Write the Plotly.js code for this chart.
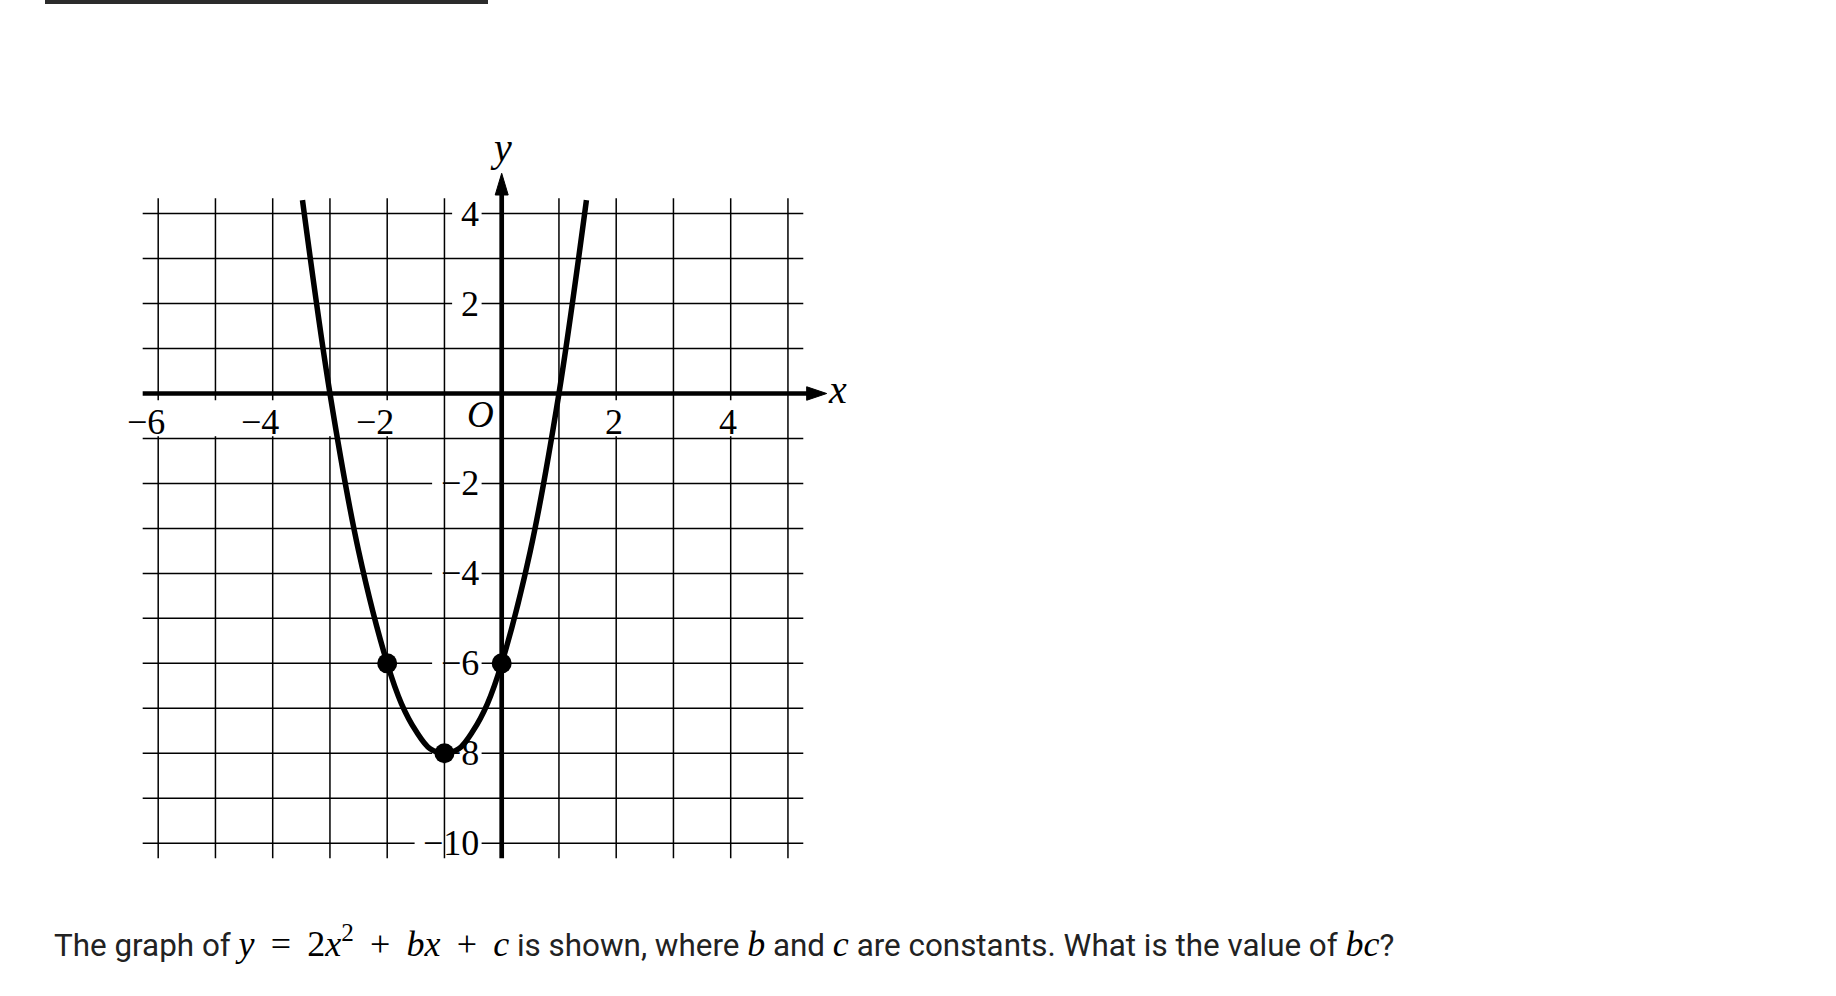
<!DOCTYPE html>
<html><head><meta charset="utf-8">
<script src="https://cdn.plot.ly/plotly-3.0.1.min.js"></script>
<style>html,body{margin:0;padding:0;background:#fff;overflow:hidden}#chart{width:1836px;height:996px}</style>
</head><body><div id="chart"></div>
<script>
// ---------- data ----------
const curveX = [-3.48, -3, -2.5, -2, -1.75, -1.5, -1.25, -1, -0.75, -0.5, -0.25, 0, 0.5, 1, 1.48];
const curveY = [4.3, 0, -3.5, -6, -6.9, -7.5, -7.9, -8, -7.9, -7.5, -6.9, -6, -3.5, 0, 4.3];
const pointX = [-2, -1, 0];
const pointY = [-6, -8, -6];
const gridX = [-6, -5, -4, -3, -2, -1, 1, 2, 3, 4, 5];
const gridY = [4, 3, 2, 1, -1, -2, -3, -4, -5, -6, -7, -8, -9, -10];
const xTickVals = [-6, -4, -2, 2, 4];
const xTickText = ['\u22126', '\u22124', '\u22122', '2', '4'];
const yTickVals = [4, 2, -2, -4, -6, -8, -10];
const yTickText = ['4', '2', '\u22122', '\u22124', '\u22126', '\u22128', '\u221210'];
const xGapVals = [-6, -5, -4, -3, -2, 2, 4];

// ---------- geometry / style ----------
const W = 1836, H = 996;
const PXX = 57.25, PXY = 44.97;      // pixels per unit
const X0 = 501.7, Y0 = 393.5;        // pixel position of origin
const xRange = [-X0 / PXX, (W - X0) / PXX];
const yRange = [-(H - Y0) / PXY, Y0 / PXY];
const GX0 = -6.271, GX1 = 5.268, GY0 = -10.336, GY1 = 4.341;
const INK = '#000';
const serif = 'Liberation Serif, Times New Roman, serif';
const GRID_W = 1.5;

const shapes = [];
// horizontal grid lines
gridY.forEach(y => shapes.push({type:'line', layer:'below', x0:GX0, x1:GX1, y0:y, y1:y, line:{color:INK, width:GRID_W}}));
// gaps in horizontal lines behind y labels
const charPx = ch => ch === '\u2212' ? 20 : 17.5;
const yMaskRight = -0.351;
yTickText.forEach((t, i) => {
  const wpx = [...t].reduce((s, c) => s + charPx(c), 0) + 12;
  shapes.push({type:'rect', layer:'below', x0:yMaskRight - wpx / PXX, x1:yMaskRight, y0:yTickVals[i] - 0.05, y1:yTickVals[i] + 0.05, fillcolor:'#fff', line:{width:0}});
});
// vertical grid lines
gridX.forEach(x => shapes.push({type:'line', layer:'below', x0:x, x1:x, y0:GY0, y1:GY1, line:{color:INK, width:GRID_W}}));
// gaps in vertical lines in the x-label row
xGapVals.forEach(x => shapes.push({type:'rect', layer:'below', x0:x - 0.05, x1:x + 0.05, y0:-0.95, y1:-0.15, fillcolor:'#fff', line:{width:0}}));
// axes
const xTip = 5.677, xBase = 5.327, xHalf = 0.15;
const yTip = 4.897, yBase = 4.414, yHalf = 0.1135;
shapes.push({type:'line', layer:'below', x0:GX0, x1:xBase + 0.05, y0:0, y1:0, line:{color:INK, width:4.7}});
shapes.push({type:'line', layer:'below', x0:0, x1:0, y0:GY0, y1:yBase + 0.05, line:{color:INK, width:4.7}});
shapes.push({type:'path', layer:'below', path:`M ${xBase} ${xHalf} L ${xTip} 0 L ${xBase} ${-xHalf} Z`, fillcolor:INK, line:{color:INK, width:1}});
shapes.push({type:'path', layer:'below', path:`M ${-yHalf} ${yBase} L 0 ${yTip} L ${yHalf} ${yBase} Z`, fillcolor:INK, line:{color:INK, width:1}});
// top bar of the page
shapes.push({type:'rect', xref:'paper', yref:'paper', x0:45 / W, x1:488 / W, y0:1 - 4 / H, y1:1, fillcolor:'#2b2b2b', line:{width:0}});

const annotations = [];
const digitHalf = 8.75 / PXX;
xTickVals.forEach((v, i) => annotations.push({x:v + digitHalf, y:-0.634, xanchor:'right', yanchor:'middle', text:xTickText[i], showarrow:false, font:{family:serif, size:36, color:INK}}));
yTickVals.forEach((v, i) => annotations.push({x:-0.362, y:v, xanchor:'right', yanchor:'middle', text:yTickText[i], showarrow:false, font:{family:serif, size:36, color:INK}}));
annotations.push({x:-0.367, y:-0.471, xanchor:'center', yanchor:'middle', text:'<i>O</i>', showarrow:false, font:{family:serif, size:37, color:INK}});
annotations.push({x:5.866, y:0.078, xanchor:'center', yanchor:'middle', text:'<i>x</i>', showarrow:false, font:{family:serif, size:40, color:INK}});
annotations.push({x:-0.012, y:5.466, xanchor:'center', yanchor:'middle', text:'<i>y</i>', showarrow:false, font:{family:serif, size:40, color:INK}});

const SP = '\u00a0\u2009';
const m = s => `<span style="font-family:'Liberation Serif';font-size:36px;color:#000">${s}</span>`;
const mi = s => `<span style="font-family:'Liberation Serif';font-style:italic;font-size:36px;color:#000">${s}</span>`;
const caption = 'The graph of ' + mi('y') + m(SP + '=' + SP + '2') + mi('x') + m('<sup>2</sup>') + m(SP + '+' + SP) + mi('bx') + m(SP + '+' + SP) + mi('c') +
  ' is shown, where ' + mi('b') + ' and ' + mi('c') + ' are constants. What is the value of ' + mi('bc') + '?';
annotations.push({xref:'paper', yref:'paper', x:51.5 / W, y:1 - 941.5 / H, xanchor:'left', yanchor:'middle', text:caption, showarrow:false, font:{family:'Roboto, sans-serif', size:31.4, color:'#222'}});

const traces = [
  {x:curveX, y:curveY, type:'scatter', mode:'lines', line:{color:INK, width:5.5, shape:'spline', smoothing:1}, hoverinfo:'skip'},
  {x:pointX, y:pointY, type:'scatter', mode:'markers', marker:{color:INK, size:20}, hoverinfo:'skip'}
];

const layout = {
  width:W, height:H, margin:{l:0, r:0, t:0, b:0},
  paper_bgcolor:'#fff', plot_bgcolor:'#fff', showlegend:false,
  xaxis:{range:xRange, visible:false, fixedrange:true},
  yaxis:{range:yRange, visible:false, fixedrange:true},
  shapes:shapes, annotations:annotations
};
Plotly.newPlot('chart', traces, layout, {staticPlot:true, displayModeBar:false});
</script></body></html>
